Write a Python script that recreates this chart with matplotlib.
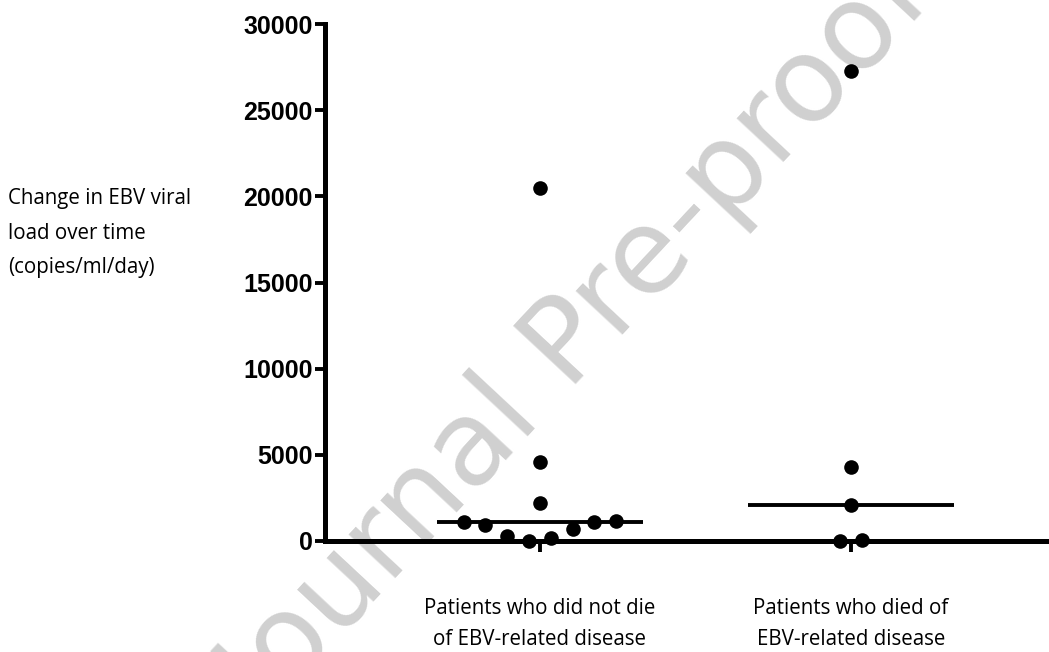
import matplotlib.pyplot as plt
import numpy as np

# data (copies/ml/day), listed left to right as plotted
groups = ["Patients who did not die\nof EBV-related disease",
          "Patients who died of\nEBV-related disease"]
not_died = [20500, 4600, 2200, 1100, 930, 290, 0, 170, 700, 1100, 1160]
died = [27300, 4300, 2100, 0, 50]
yticks = [0, 5000, 10000, 15000, 20000, 25000, 30000]
ylabel = "Change in EBV viral\nload over time\n(copies/ml/day)"
watermark = "Journal Pre-proof"


def swarm_offsets(vals, min_gap, step):
    # points closer than min_gap in y are spread sideways in a row
    vals = np.asarray(vals, float)
    order = np.argsort(vals, kind="stable")
    offs = np.zeros(len(vals))
    clusters = [[order[0]]]
    for a, b in zip(order[:-1], order[1:]):
        if vals[b] - vals[a] < min_gap:
            clusters[-1].append(b)
        else:
            clusters.append([b])
    for c in clusters:
        c = sorted(c)
        for k, idx in enumerate(c):
            offs[idx] = (k - (len(c) - 1) / 2) * step
    return offs


W, H = 1049, 652
fig = plt.figure(figsize=(W / 100, H / 100), dpi=100)
ax = fig.add_axes([325 / W, 1 - 541 / H, 724 / W, 517 / H])
ax.set_zorder(1)
ax.patch.set_visible(False)

for i, vals in enumerate([not_died, died]):
    xs = i + swarm_offsets(vals, 870, 0.07)
    ax.plot(xs, vals, "o", color="black", ms=10.5, mew=0, clip_on=False, zorder=4)
    ax.hlines(np.median(vals), i - 0.33, i + 0.33, color="black", lw=2.8, zorder=3)

ax.set_xlim(-0.691, 1.637)
ax.set_ylim(0, 30000)

for s in ["top", "right"]:
    ax.spines[s].set_visible(False)
for s in ["left", "bottom"]:
    ax.spines[s].set_linewidth(3.6)
    ax.spines[s].set_capstyle("projecting")

ax.set_yticks(yticks)
ax.set_yticklabels([str(t) for t in yticks], fontfamily="Liberation Sans",
                   fontweight="bold", fontsize=18)
ax.tick_params(axis="y", direction="out", length=7, width=2.8, pad=2)

ax.set_xticks([0, 1])
ax.set_xticklabels(groups, fontfamily="Open Sans", fontsize=14.8, linespacing=1.6)
ax.tick_params(axis="x", direction="out", length=8, width=2.8, pad=33)

fig.text(8 / W, 1 - 233 / H, ylabel, ha="left", va="center",
         fontfamily="Open Sans", fontsize=14.8, linespacing=1.87)

fig.text(578 / W, 1 - 341 / H, watermark, ha="center", va="center",
         rotation=47, rotation_mode="anchor", fontsize=85,
         color="#d0d0d0", zorder=0.5)

fig.savefig("out.png", dpi=100)
